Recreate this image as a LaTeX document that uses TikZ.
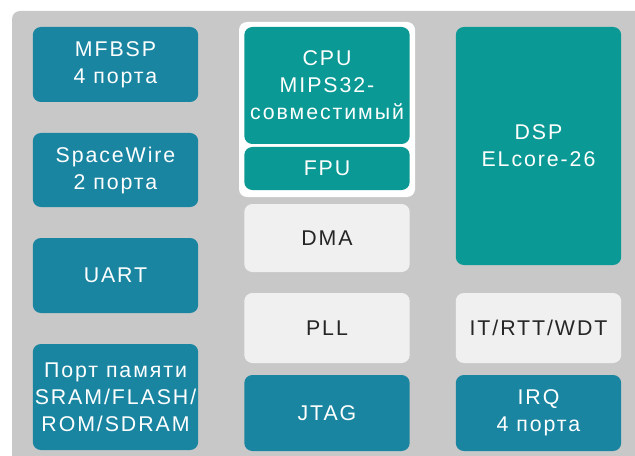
\documentclass[tikz,border=0pt]{standalone}
\usepackage{fontspec}
\setmainfont[LetterSpace=9]{Liberation Sans}
\definecolor{portblue}{HTML}{1985A1}
\definecolor{coreteal}{HTML}{0A9994}
\definecolor{chipgray}{HTML}{C8C8C8}
\definecolor{unitwhite}{HTML}{F0F0F0}

\begin{document}
\begin{tikzpicture}[x=0.75pt,y=-0.75pt,
  blk/.style={rounded corners=6pt, minimum width=124pt, inner sep=0pt, align=center,
    font=\fontsize{16}{20.25}\selectfont},
  tall/.style={minimum height=#1*0.75pt},
  bluebox/.style={blk, fill=portblue, text=white},
  tealbox/.style={blk, fill=coreteal, text=white},
  greybox/.style={blk, fill=unitwhite, text=black!85}]

  \useasboundingbox (0,0) rectangle (635,456);
  \fill[chipgray] (12,456) [rounded corners=6pt] -- (12,11) [sharp corners] -- (635,11) -- (635,456) -- cycle;

  % left column: ports
  \draw (115.5, 64.5) node[bluebox, tall=75] (mfbsp) {MFBSP\\4 порта};
  \draw (115.5, 170) node[bluebox, tall=74] (spw) {SpaceWire\\2 порта};
  \draw (115.5, 275.5) node[bluebox, tall=75] (uart) {UART};
  \draw (115.5, 397) node[bluebox, tall=106] (mem) {Порт памяти\\SRAM/FLASH/\\ROM/SDRAM};

  % middle column: core
  \draw (327, 109.5) node[blk, fill=white, minimum width=132pt, tall=175] (cpuframe) {};
  \draw (327, 85.5) node[tealbox, tall=117] (cpu) {CPU\\MIPS32-\\совместимый};
  \draw (327, 168.5) node[tealbox, tall=43] (fpu) {FPU};
  \draw (327, 238) node[greybox, tall=68] (dma) {DMA};
  \draw (327, 328) node[greybox, tall=70] (pll) {PLL};
  \draw (327, 413) node[bluebox, tall=76] (jtag) {JTAG};

  % right column
  \draw (538.5, 146) node[tealbox, tall=238] (dsp) {DSP\\ELcore-26};
  \draw (538.5, 328) node[greybox, tall=70] (wdt) {IT/RTT/WDT};
  \draw (538.5, 413) node[bluebox, tall=76] (irq) {IRQ\\4 порта};
\end{tikzpicture}
\end{document}
